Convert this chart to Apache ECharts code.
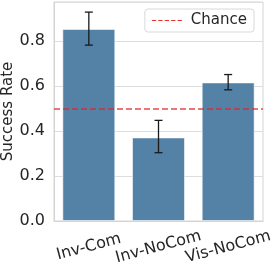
<!DOCTYPE html>
<html>
<head>
<meta charset="utf-8">
<script src="https://cdn.jsdelivr.net/npm/echarts@6/dist/echarts.min.js"></script>
<style>html,body{margin:0;padding:0;background:#fff}#c{width:274px;height:266px}</style>
</head>
<body>
<div id="c"></div>
<script>
var categories = ['Inv-Com', 'Inv-NoCom', 'Vis-NoCom'];
var successRate = [0.855, 0.372, 0.617];
var errLow = [0.783, 0.304, 0.584];
var errHigh = [0.930, 0.448, 0.652];
var chanceLevel = 0.5;
var yTicks = [0.0, 0.2, 0.4, 0.6, 0.8];

var chart = echarts.init(document.getElementById('c'), null, {renderer: 'canvas'});
var font = 'DejaVu Sans';
var errData = categories.map(function (c, i) { return [i, errLow[i], errHigh[i]]; });

chart.setOption({
  animation: false,
  grid: {left: 54, right: 11, top: 2, bottom: 45, containLabel: false, outerBoundsMode: 'none',
    show: true, borderColor: '#d4d4d4', borderWidth: 1},
  legend: {
    show: true,
    data: [{name: 'Chance', icon: 'path://M0,0h4v1h-4z M6,0h4v1h-4z M12,0h4v1h-4z M18,0h4v1h-4z M24,0h4v1h-4z',
      itemStyle: {color: '#e8302a'}}],
    right: 20, top: 9,
    padding: [4, 7, 4, 7],
    borderColor: '#d9d9d9', borderWidth: 1, borderRadius: 3,
    itemWidth: 30, itemHeight: 1.5, itemGap: 8,
    textStyle: {fontFamily: font, fontSize: 15, color: '#262626', padding: [0, 0, 0, 4]}
  },
  xAxis: {
    type: 'category',
    data: categories,
    axisLine: {show: true, lineStyle: {color: '#d4d4d4'}},
    axisTick: {show: false},
    axisLabel: {rotate: 15, align: 'center', verticalAlign: 'middle', margin: 26, fontFamily: font, fontSize: 16, color: '#262626', interval: 0}
  },
  yAxis: {
    type: 'value',
    min: 0, max: 0.975, interval: 0.2,
    name: 'Success Rate', nameLocation: 'middle', nameGap: 38, nameMoveOverlap: false,
    nameTextStyle: {fontFamily: font, fontSize: 15, color: '#262626'},
    axisLine: {show: true, lineStyle: {color: '#d4d4d4'}},
    axisTick: {show: false},
    splitLine: {show: true, lineStyle: {color: '#dedede', width: 1}},
    axisLabel: {showMaxLabel: false, fontFamily: font, fontSize: 16, color: '#262626', margin: 9,
      formatter: function (v) { return Math.abs(v * 5 - Math.round(v * 5)) < 1e-6 ? v.toFixed(1) : ''; }}
  },
  series: [
    {
      type: 'bar',
      name: 'Success',
      data: successRate,
      barWidth: '76%',
      itemStyle: {color: '#5481a6', borderColor: 'rgba(255,255,255,0.55)', borderWidth: 1},
      z: 2
    },
    {
      type: 'custom',
      name: 'err',
      data: errData,
      z: 5,
      renderItem: function (params, api) {
        var x = api.value(0);
        var lo = api.coord([x, api.value(1)]);
        var hi = api.coord([x, api.value(2)]);
        var half = 4;
        var st = {stroke: '#1a1a1a', lineWidth: 1.3};
        return {
          type: 'group',
          children: [
            {type: 'line', shape: {x1: lo[0], y1: lo[1], x2: hi[0], y2: hi[1]}, style: st},
            {type: 'line', shape: {x1: lo[0] - half, y1: lo[1], x2: lo[0] + half, y2: lo[1]}, style: st},
            {type: 'line', shape: {x1: hi[0] - half, y1: hi[1], x2: hi[0] + half, y2: hi[1]}, style: st}
          ]
        };
      }
    },
    {
      type: 'line',
      name: 'Chance',
      data: [],
      symbol: 'none',
      color: '#e8302a',
      lineStyle: {type: [4, 2], width: 1.5, color: '#e8302a'},
      markLine: {
        silent: true,
        symbol: ['none', 'none'],
        label: {show: false},
        lineStyle: {type: [6, 3], width: 1.6, color: 'rgba(226,40,40,0.85)'},
        data: [{yAxis: chanceLevel}]
      },
      z: 4
    }
  ]
});
</script>
</body>
</html>
